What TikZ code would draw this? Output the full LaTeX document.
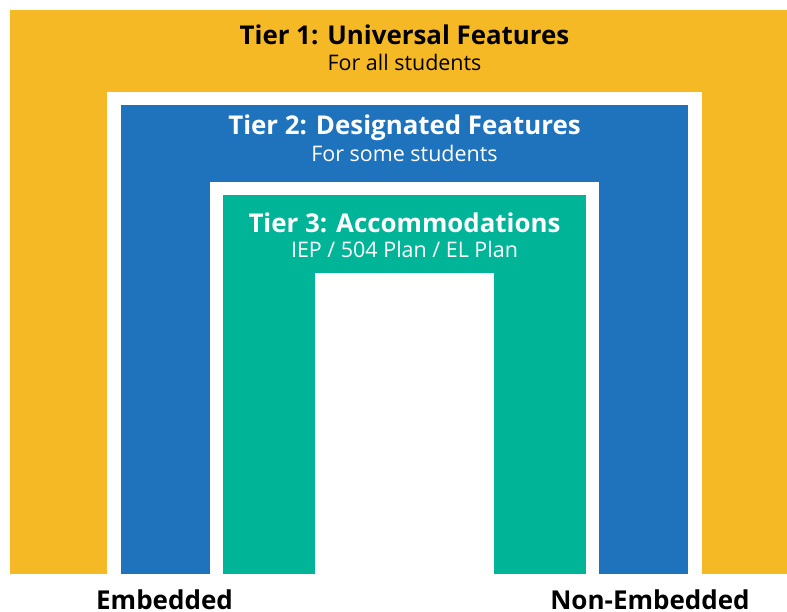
\documentclass[tikz,border=0pt]{standalone}
\usepackage{fontspec}
\setmainfont{Open Sans}
\IfFontExistsTF{Open Sans SemiBold}
  {\newfontfamily\semifont{Open Sans SemiBold}\def\headsize{20.2}\def\footsize{20.3}}
  {\newfontfamily\semifont{Open Sans Bold}\def\headsize{19.4}\def\footsize{19.5}}
\definecolor{TierOneClr}{RGB}{245,185,38}
\definecolor{TierTwoClr}{RGB}{31,115,188}
\definecolor{TierThreeClr}{RGB}{0,180,152}

\begin{document}
\begin{tikzpicture}[x=0.75pt,y=-0.75pt,
  head/.style={anchor=base,inner sep=0pt,font=\fontsize{\headsize}{23}\semifont},
  sub/.style={anchor=base,inner sep=0pt,font=\fontsize{16.1}{19}\selectfont},
  foot/.style={anchor=base,inner sep=0pt,font=\fontsize{\footsize}{23}\semifont}]
\useasboundingbox (0,0) rectangle (787,611);

% tier 1
\fill[TierOneClr] (10,10) rectangle (787,573.7);
\fill[white] (107,91.7) rectangle (702,573.7);
% tier 2
\fill[TierTwoClr] (120.7,104.7) rectangle (688.3,573.7);
\fill[white] (210,182.3) rectangle (599,573.7);
% tier 3
\fill[TierThreeClr] (223.3,195) rectangle (585.7,573.7);
\fill[white] (315,273.3) rectangle (494.3,573.7);

\node[head] (T1) at (404.5,44.3) {Tier 1: Universal Features};
\node[sub] (S1) at (404.5,70.5) {For all students};

\node[head,text=white] (T2) at (404.5,134.3) {Tier 2: Designated Features};
\node[sub,text=white] (S2) at (404.5,161.7) {For some students};

\node[head,text=white] (T3) at (404.5,232.3) {Tier 3: Accommodations};
\node[sub,text=white] (S3) at (404.5,257.7) {IEP / 504 Plan / EL Plan};

\node[foot] (E) at (164.5,609.5) {Embedded};
\node[foot] (NE) at (650,609.5) {Non-Embedded};
\end{tikzpicture}
\end{document}
